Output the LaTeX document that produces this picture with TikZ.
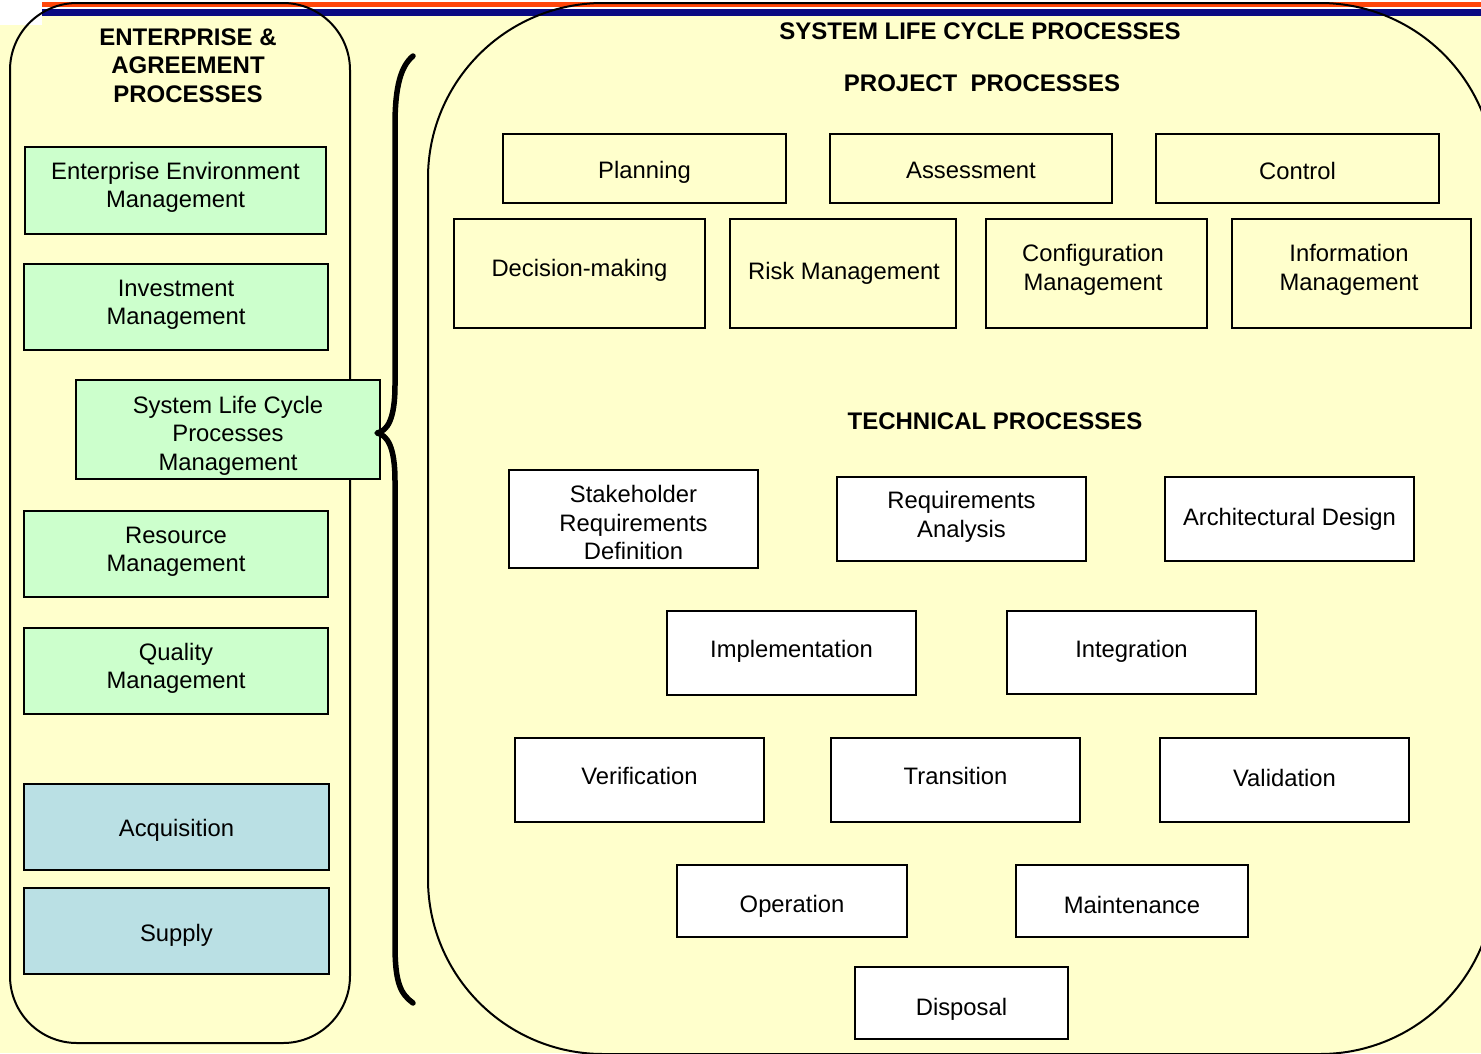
\documentclass[tikz,border=0pt]{standalone}
\usepackage{fontspec}
\setmainfont{Liberation Sans}
\definecolor{paper}{RGB}{255,255,204}
\definecolor{mint}{RGB}{204,255,204}
\definecolor{aqua}{RGB}{186,224,228}
\definecolor{stripeA}{RGB}{255,70,10}
\definecolor{stripeB}{RGB}{10,10,130}
\begin{document}
\begin{tikzpicture}[x=1pt,y=-1pt,
  every node/.style={inner sep=0pt, outer sep=0pt, align=center,
    font=\fontsize{23.8}{28.4}\selectfont},
  hdr/.style={font=\fontsize{24}{28.5}\selectfont\bfseries},
  ebox/.style={draw=black, line width=2.2pt, fill=mint},
  abox/.style={draw=black, line width=2.2pt, fill=aqua},
  pbox/.style={draw=black, line width=2.6pt},
  tbox/.style={draw=black, line width=2.6pt, fill=white},
  panel/.style={draw=black, line width=2pt},
  % box text, nudged vertically by #1 (positive = down)
  txt/.style 2 args={label={[yshift=-#1pt]center:{#2}}},
  % box text, nudged by #1 horizontally and #2 vertically (positive = right, down)
  txtxy/.style n args={3}{label={[xshift=#1pt, yshift=-#2pt]center:{#3}}},
  bracestroke/.style={draw=black, line width=5.5pt, line cap=round, line join=round}]

\useasboundingbox (0,0) rectangle (1481,1053);
\clip (0,0) rectangle (1481,1053);

% page background and title stripes
\fill[paper] (0,0) rectangle (1481,1053);
\fill[white] (0,0) rectangle (42,25);
\fill[white] (42,0) rectangle (1481,9.3);
\fill[stripeA] (42,1.7) rectangle (1481,6.7);
\fill[stripeB] (42,9.3) rectangle (1481,15.7);

% the two panels
\draw[panel, rounded corners=67pt] (10,3) rectangle (350,1043);
\draw[panel, rounded corners=175pt] (428,3) rectangle (1495,1054);

% enterprise & agreement column
\node[hdr] (hdrL) at (188,65.5) {ENTERPRISE \&\\AGREEMENT\\PROCESSES};
\node[ebox, minimum width=301, minimum height=87, txt={-3}{Enterprise Environment\\Management}] (ee) at (175.5,190.5) {};
\node[ebox, minimum width=304, minimum height=86, txt={-2.5}{Investment\\Management}] (inv) at (176,307) {};
\node[ebox, minimum width=304, minimum height=99, txt={6}{System Life Cycle\\Processes\\Management}] (slc) at (228,429.5) {};
\node[ebox, minimum width=304, minimum height=86, txt={-2}{Resource\\Management}] (res) at (176,554) {};
\node[ebox, minimum width=304, minimum height=86, txt={-2.5}{Quality\\Management}] (qual) at (176,671) {};
\node[abox, minimum width=305, minimum height=86, txt={3}{Acquisition}] (acq) at (176.5,827) {};
\node[abox, minimum width=305, minimum height=86, txt={4}{Supply}] (sup) at (176.5,931) {};

% brace from the life cycle management box to the right panel
\coordinate (braceTop) at (413,56);
\coordinate (braceBot) at (413,1003);
\coordinate (braceTip) at (377,433);
\draw[bracestroke] (braceTop) .. controls (401,66) and (395,86) .. (395,125)
  -- (395,385) .. controls (395,420) and (387,431) .. (braceTip)
  .. controls (387,435) and (395,446) .. (395,481)
  -- (395,945) .. controls (395,984) and (401,994) .. (braceBot);

% system life cycle processes
\node[hdr] (hdrS) at (980,31) {SYSTEM LIFE CYCLE PROCESSES};
\node[hdr] (hdrP) at (982,83) {PROJECT\ \ PROCESSES};

\node[pbox, minimum width=283, minimum height=69, txt={4}{Planning}] (plan) at (644.5,168.5) {};
\node[pbox, minimum width=282, minimum height=69, txt={2}{Assessment}] (asmt) at (971,168.5) {};
\node[pbox, minimum width=283, minimum height=69, txt={2}{Control}] (ctrl) at (1297.5,168.5) {};
\node[pbox, minimum width=251, minimum height=109, txt={-3}{Decision-making}] (dec) at (579.5,273.5) {};
\node[pbox, minimum width=226, minimum height=109, txtxy={1}{0}{Risk Management}] (risk) at (843,273.5) {};
\node[pbox, minimum width=221, minimum height=109, txtxy={-3.5}{-3.5}{Configuration\\Management}] (cfg) at (1096.5,273.5) {};
\node[pbox, minimum width=239, minimum height=109, txtxy={-2.5}{-3.5}{Information\\Management}] (info) at (1351.5,273.5) {};

\node[hdr] (hdrT) at (995,421) {TECHNICAL PROCESSES};

\node[tbox, minimum width=249, minimum height=98, txt={3.5}{Stakeholder\\Requirements\\Definition}] (srd) at (633.5,519) {};
\node[tbox, minimum width=249, minimum height=84, txt={-2}{Requirements\\Analysis}] (ra) at (961.5,519) {};
\node[tbox, minimum width=249, minimum height=84, txt={0}{Architectural Design}] (ad) at (1289.5,519) {};
\node[tbox, minimum width=249, minimum height=84, txt={-2}{Implementation}] (impl) at (791.5,653) {};
\node[tbox, minimum width=249, minimum height=83, txt={-1}{Integration}] (integ) at (1131.5,652.5) {};
\node[tbox, minimum width=249, minimum height=84, txt={-4}{Verification}] (verif) at (639.5,780) {};
\node[tbox, minimum width=249, minimum height=84, txt={-4}{Transition}] (trans) at (955.5,780) {};
\node[tbox, minimum width=249, minimum height=84, txt={-2}{Validation}] (valid) at (1284.5,780) {};
\node[tbox, minimum width=230, minimum height=72, txt={5}{Operation}] (oper) at (792,901) {};
\node[tbox, minimum width=232, minimum height=72, txt={4}{Maintenance}] (maint) at (1132,901) {};
\node[tbox, minimum width=213, minimum height=72, txt={6}{Disposal}] (disp) at (961.5,1003) {};

\end{tikzpicture}
\end{document}
